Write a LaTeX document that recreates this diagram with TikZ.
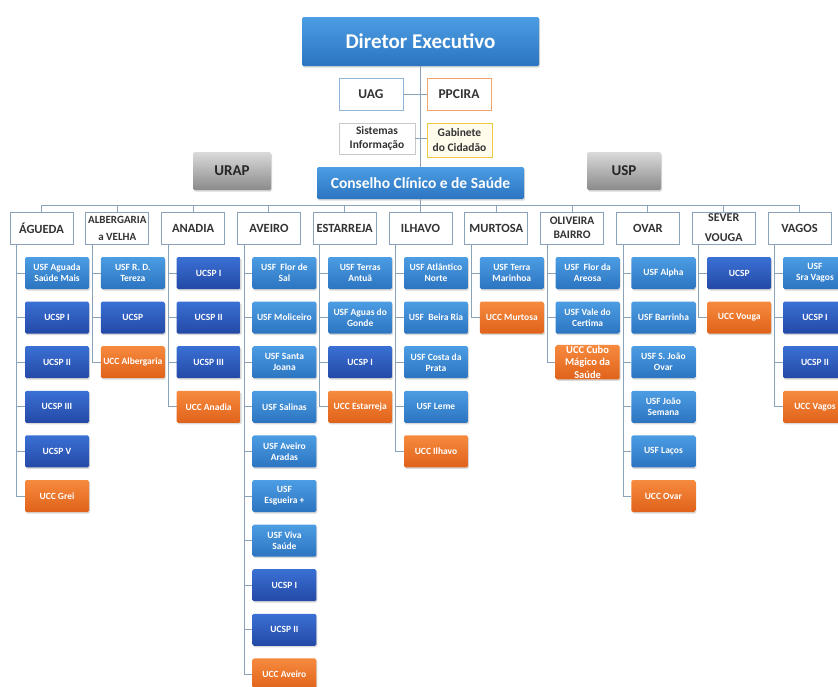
\documentclass[tikz,border=0pt]{standalone}
\usepackage{fontspec}
\setmainfont{Carlito}
\usetikzlibrary{shadows}
\definecolor{lnc}{HTML}{8AA2BA}
\definecolor{hdrtxt}{HTML}{333333}
\definecolor{usfT}{HTML}{4C9DE3}
\definecolor{usfB}{HTML}{2C74C0}
\definecolor{ucT}{HTML}{3A70D4}
\definecolor{ucB}{HTML}{2449A6}
\definecolor{orT}{HTML}{F68A3E}
\definecolor{orB}{HTML}{E0621A}
\definecolor{grT}{HTML}{DADADA}
\definecolor{grB}{HTML}{8A8A8A}
\definecolor{uagB}{HTML}{8FB4D8}
\definecolor{ppcB}{HTML}{F2A46A}
\definecolor{sisB}{HTML}{C8C8C8}
\definecolor{gabB}{HTML}{EDC840}
\definecolor{gabF}{HTML}{FFFCEC}
\begin{document}
\begin{tikzpicture}[x=1pt,y=-1pt,
  conn/.style={draw=lnc, line width=1pt},
  shd/.style={drop shadow={shadow xshift=1pt,shadow yshift=-1.5pt,opacity=0.3}},
  kid/.style={shd, minimum width=64pt, minimum height=32pt, inner sep=1pt, align=center,
    text=white, font=\bfseries\fontsize{9.5}{11}\selectfont, rounded corners=1.5pt},
  usf/.style={kid, top color=usfT, bottom color=usfB},
  ucsp/.style={kid, top color=ucT, bottom color=ucB},
  ucc/.style={kid, top color=orT, bottom color=orB},
  hdr/.style={draw=lnc, fill=white, line width=0.8pt, minimum width=63pt, minimum height=32pt,
    inner sep=0pt, align=center, text=hdrtxt, font=\bfseries\fontsize{12.5}{14}\selectfont},
  big/.style={shd, top color=usfT, bottom color=usfB, text=white, inner sep=0pt, rounded corners=1.5pt},
  gray/.style={shd, top color=grT, bottom color=grB, text=black!85, inner sep=0pt, rounded corners=1.5pt,
    font=\bfseries\fontsize{15}{16}\selectfont},
  small/.style={fill=white, line width=0.9pt, inner sep=0pt, align=center, text=hdrtxt}
]
\useasboundingbox (0,0) rectangle (838,686);
\clip (0,0) rectangle (838,686);

\newcommand\hd[3][]{\node[hdr,#1] (h#2) at ({41.5+75.8*#2},228) {#3};
  \coordinate (tr#2) at ([xshift=7pt]h#2.south west);}
\newcommand\kid[4]{\draw[conn] (tr#1) |- ({57+75.8*#1-32},{273+44.6*#2});
  \node[#3] (c#1-#2) at ({57+75.8*#1},{273+44.6*#2}) {#4};}

% top part
\node[big, minimum width=237pt, minimum height=49pt, font=\bfseries\fontsize{21}{22}\selectfont] (de) at (420.5,41.5) {Diretor Executivo};
\node[big, minimum width=207pt, minimum height=32pt, font=\bfseries\fontsize{15.5}{16}\selectfont] (cc) at (420.5,183) {Conselho Clínico e de Saúde};
\draw[conn] (de.south) -- (cc.north);
\node[small, draw=uagB, minimum width=64pt, minimum height=32pt, font=\bfseries\fontsize{13.5}{14}\selectfont] (uag) at (371,94) {UAG};
\node[small, draw=ppcB, minimum width=64pt, minimum height=32pt, font=\bfseries\fontsize{13.5}{14}\selectfont] (ppc) at (459,94) {PPCIRA};
\node[small, draw=sisB, minimum width=76pt, minimum height=31pt, font=\bfseries\fontsize{11.5}{14}\selectfont] (sis) at (377,138.5) {Sistemas\\Informação};
\node[small, draw=gabB, fill=gabF, minimum width=65pt, minimum height=34pt, font=\bfseries\fontsize{11.5}{15}\selectfont] (gab) at (459.5,140) {Gabinete\\do Cidadão};
\draw[conn] (uag.east) -- (ppc.west);
\draw[conn] (sis.east) -- (sis.east -| gab.west);
\node[gray, minimum width=78pt, minimum height=38pt] (urap) at (232,171) {URAP};
\node[gray, minimum width=74pt, minimum height=38pt] (usp) at (624,171) {USP};

% headers
\hd{0}{ÁGUEDA}
\hd[font=\bfseries\fontsize{11}{17}\selectfont]{1}{ALBERGARIA\\a VELHA}
\hd{2}{ANADIA}
\hd{3}{AVEIRO}
\hd{4}{ESTARREJA}
\hd{5}{ILHAVO}
\hd{6}{MURTOSA}
\hd[font=\bfseries\fontsize{11.5}{13.5}\selectfont]{7}{OLIVEIRA\\BAIRRO}
\hd{8}{OVAR}
\hd[font=\bfseries\fontsize{12}{20}\selectfont]{9}{SEVER\\VOUGA}
\hd{10}{VAGOS}

\coordinate (bus) at (420.5,205);
\draw[conn] (cc.south) -- (bus);
\foreach \i in {0,...,10} {\draw[conn] (bus) -| (h\i.north);}

% ÁGUEDA
\kid{0}{0}{usf}{USF Aguada\\Saúde Mais}
\kid{0}{1}{ucsp}{UCSP I}
\kid{0}{2}{ucsp}{UCSP II}
\kid{0}{3}{ucsp}{UCSP III}
\kid{0}{4}{ucsp}{UCSP V}
\kid{0}{5}{ucc}{UCC Grei}
% ALBERGARIA
\kid{1}{0}{usf}{USF R. D.\\Tereza}
\kid{1}{1}{ucsp}{UCSP}
\kid{1}{2}{ucc}{UCC Albergaria}
% ANADIA
\kid{2}{0}{ucsp}{UCSP I}
\kid{2}{1}{ucsp}{UCSP II}
\kid{2}{2}{ucsp}{UCSP III}
\kid{2}{3}{ucc}{UCC Anadia}
% AVEIRO
\kid{3}{0}{usf}{USF~ Flor de\\Sal}
\kid{3}{1}{usf}{USF Moliceiro}
\kid{3}{2}{usf}{USF Santa\\Joana}
\kid{3}{3}{usf}{USF Salinas}
\kid{3}{4}{usf}{USF Aveiro\\Aradas}
\kid{3}{5}{usf}{USF\\Esgueira +}
\kid{3}{6}{usf}{USF Viva\\Saúde}
\kid{3}{7}{ucsp}{UCSP I}
\kid{3}{8}{ucsp}{UCSP II}
\kid{3}{9}{ucc}{UCC Aveiro}
% ESTARREJA
\kid{4}{0}{usf}{USF Terras\\Antuã}
\kid{4}{1}{usf}{USF Aguas do\\Gonde}
\kid{4}{2}{ucsp}{UCSP I}
\kid{4}{3}{ucc}{UCC Estarreja}
% ILHAVO
\kid{5}{0}{usf}{USF Atlântico\\Norte}
\kid{5}{1}{usf}{USF~ Beira Ria}
\kid{5}{2}{usf}{USF Costa da\\Prata}
\kid{5}{3}{usf}{USF Leme}
\kid{5}{4}{ucc}{UCC Ilhavo}
% MURTOSA
\kid{6}{0}{usf}{USF Terra\\Marinhoa}
\kid{6}{1}{ucc}{UCC Murtosa}
% OLIVEIRA BAIRRO
\kid{7}{0}{usf}{USF~ Flor da\\Areosa}
\kid{7}{1}{usf}{USF Vale do\\Certima}
\kid{7}{2}{ucc,font=\bfseries\fontsize{10.5}{12.5}\selectfont}{UCC Cubo\\Mágico da\\Saúde}
% OVAR
\kid{8}{0}{usf}{USF Alpha}
\kid{8}{1}{usf}{USF Barrinha}
\kid{8}{2}{usf}{USF S. João\\Ovar}
\kid{8}{3}{usf}{USF João\\Semana}
\kid{8}{4}{usf}{USF Laços}
\kid{8}{5}{ucc}{UCC Ovar}
% SEVER VOUGA
\kid{9}{0}{ucsp}{UCSP}
\kid{9}{1}{ucc}{UCC Vouga}
% VAGOS
\kid{10}{0}{usf}{USF\\Sra Vagos}
\kid{10}{1}{ucsp}{UCSP I}
\kid{10}{2}{ucsp}{UCSP II}
\kid{10}{3}{ucc}{UCC Vagos}
\end{tikzpicture}
\end{document}
